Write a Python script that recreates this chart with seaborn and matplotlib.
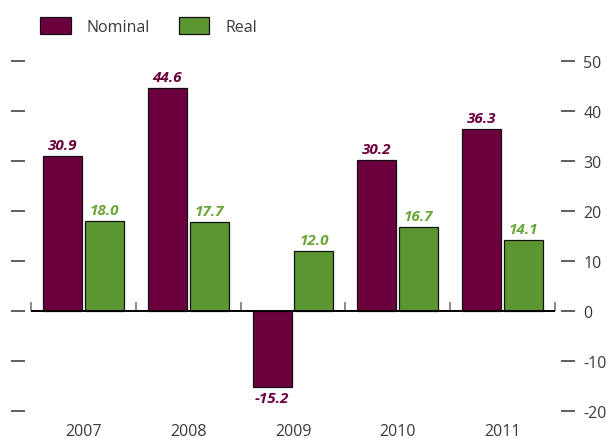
import matplotlib
matplotlib.use("Agg")
import matplotlib.pyplot as plt
import matplotlib.patches as mpatches
import numpy as np
import pandas as pd
import seaborn as sns

# Growth figures per year, percent
years = ["2007", "2008", "2009", "2010", "2011"]
nominal = [30.9, 44.6, -15.2, 30.2, 36.3]
real = [18.0, 17.7, 12.0, 16.7, 14.1]
series_names = ["Nominal", "Real"]
yticks = [-20, -10, 0, 10, 20, 30, 40, 50]

bar_colors = ["#6C003E", "#5C9632"]
label_colors = ["#6C003E", "#6BA53A"]
text_color = "#3A3A3A"

sns.set_theme(style="white")
plt.rcParams["font.family"] = ["Open Sans", "DejaVu Sans"]
plt.rcParams["axes.unicode_minus"] = False

df = pd.DataFrame({
    "year": years * 2,
    "value": nominal + real,
    "series": [series_names[0]] * len(years) + [series_names[1]] * len(years),
})

fig = plt.figure(figsize=(6.06, 4.39), dpi=100)
ax = fig.add_axes([11 / 606, 1 - 411.7 / 439, (575 - 11) / 606, (411.7 - 61.7) / 439])

sns.barplot(data=df, x="year", y="value", hue="series", hue_order=series_names,
            palette=bar_colors, width=0.8, gap=0.07, edgecolor="#111111",
            linewidth=0.9, saturation=1, legend=False, ax=ax)

n = len(years)
ax.set_xlim(-0.69, n - 1 + 0.69)
ax.set_ylim(yticks[0], yticks[-1])
ax.set_yticks(yticks)
ax.set_xlabel("")
ax.set_ylabel("")
for s in ax.spines.values():
    s.set_visible(False)

# zero baseline with small separators between year groups
ax.hlines(0, -0.5, n - 0.5, color="black", linewidth=1.4, zorder=5)
ax.vlines(np.arange(-0.5, n, 1.0), 0, 1.8, color="#808080", linewidth=1.3, zorder=4)

ax.tick_params(axis="y", direction="in", length=9.75, width=1.1, color="#333333",
               left=True, right=True, labelleft=False, labelright=True,
               pad=6, labelsize=11.5, labelcolor=text_color)
ax.tick_params(axis="x", length=0, pad=9, labelsize=11.5, labelcolor=text_color)

# value labels on top of (or below) each bar
for container, col in zip(ax.containers, label_colors):
    ax.bar_label(container, fmt="%.1f", padding=3, color=col,
                 fontsize=11, fontweight="bold", fontstyle="italic")

handles = [mpatches.Patch(facecolor=c, edgecolor="#111111", linewidth=0.9)
           for c in bar_colors]
fig.legend(handles, series_names, loc="upper left",
           bbox_to_anchor=(26 / 606, 1 - 4 / 439), ncol=2, frameon=False,
           fontsize=11.5, labelcolor=text_color, handlelength=1.9,
           handleheight=1.25, handletextpad=1.0, columnspacing=1.8)

fig.savefig("out.png", dpi=100)
